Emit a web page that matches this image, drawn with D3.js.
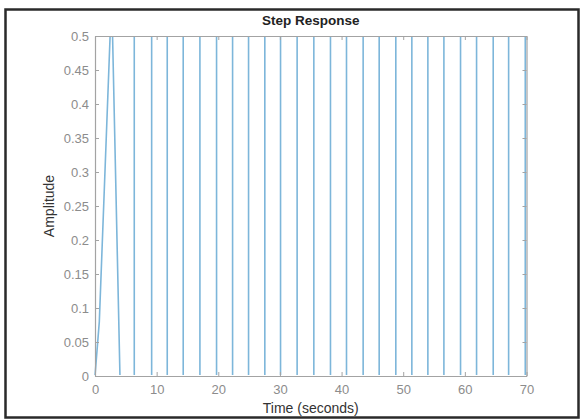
<!DOCTYPE html>
<html>
<head>
<meta charset="utf-8">
<script src="https://cdn.jsdelivr.net/npm/d3@7"></script>
<style>
  body { margin: 0; background: #fff; }
  svg { display: block; }
</style>
</head>
<body>
<div id="chart"></div>
<script>
// first rise of the response
var riseTimes  = [0, 0.7, 2.45, 2.85, 4.05];
var riseValues = [0, 0.08, 0.5, 0.5, 0];

// after that the signal flips between 0 and 0.5
var switchTimes  = [6.37, 9.19, 11.72, 14.31, 17.02, 19.72, 22.32, 24.91, 27.55, 30.1,
                    32.79, 35.5, 38.2, 40.8, 43.5, 46.1, 48.8, 51.4, 54.0, 56.6,
                    59.3, 61.9, 64.6, 67.1, 69.8];
var switchLevels = [0.5, 0, 0.5, 0, 0.5, 0, 0.5, 0, 0.5, 0,
                    0.5, 0, 0.5, 0, 0.5, 0, 0.5, 0, 0.5, 0,
                    0.5, 0, 0.5, 0, 0.5];
var endTime = 70;

var xTicks = [0, 10, 20, 30, 40, 50, 60, 70];
var yTicks = [0, 0.05, 0.1, 0.15, 0.2, 0.25, 0.3, 0.35, 0.4, 0.45, 0.5];

var svgWidth = 581, svgHeight = 420;
// plot box edges (note: "top" is taken by window.top, so use other names)
var plotLeft = 95, plotRight = 526.5, plotTop = 36, plotBottom = 376;

var svg = d3.select("#chart").append("svg")
    .attr("width", svgWidth)
    .attr("height", svgHeight);

// screenshot frame
svg.append("rect")
    .attr("x", 5.5).attr("y", 9.5)
    .attr("width", 573).attr("height", 408)
    .attr("fill", "#fff")
    .attr("stroke", "#2a2a2a")
    .attr("stroke-width", 2.5);

var x = d3.scaleLinear().domain([0, 70]).range([plotLeft, plotRight]);
var y = d3.scaleLinear().domain([0, 0.5]).range([plotBottom, plotTop]);

// the flat parts lie on the box edges, hide them under the axis lines
svg.append("clipPath")
    .attr("id", "plotClip")
    .append("rect")
    .attr("x", plotLeft - 2)
    .attr("y", plotTop + 1)
    .attr("width", plotRight - plotLeft + 4)
    .attr("height", plotBottom - plotTop - 2);

// build the points list: the rise, then a step after each switch
var points = riseTimes.map(function(t, i) { return [t, riseValues[i]]; });
var level = riseValues[riseValues.length - 1];
switchTimes.forEach(function(t, i) {
    points.push([t, level]);
    level = switchLevels[i];
    points.push([t, level]);
});
points.push([endTime, level]);

var line = d3.line()
    .x(function(d) { return x(d[0]); })
    .y(function(d) { return y(d[1]); });

svg.append("path")
    .datum(points)
    .attr("clip-path", "url(#plotClip)")
    .attr("fill", "none")
    .attr("stroke", "#7db6da")
    .attr("stroke-width", 1.6)
    .attr("d", line);

// axes, ticks pointing inside like matlab
var axisColor = "#a3a3a3";
var labelColor = "#8c8c8c";
var fontFamily = "'Liberation Sans', Arial, sans-serif";

function styleAxis(g) {
    g.select(".domain").attr("stroke", axisColor).attr("stroke-width", 1.2);
    g.selectAll(".tick line").attr("stroke", axisColor);
    g.selectAll(".tick text")
        .attr("fill", labelColor)
        .style("font-family", fontFamily)
        .style("font-size", "13px");
}

svg.append("g")
    .attr("transform", "translate(0," + plotBottom + ")")
    .call(d3.axisBottom(x).tickValues(xTicks).tickSize(-4).tickSizeOuter(0).tickPadding(9))
    .call(styleAxis);

svg.append("g")
    .attr("transform", "translate(" + plotLeft + ",0)")
    .call(d3.axisLeft(y).tickValues(yTicks).tickFormat(d3.format("~g")).tickSize(-4).tickSizeOuter(0).tickPadding(6))
    .call(styleAxis);

svg.append("g")
    .attr("transform", "translate(0," + plotTop + ")")
    .call(d3.axisTop(x).tickValues(xTicks).tickFormat("").tickSize(-4).tickSizeOuter(0))
    .call(styleAxis);

svg.append("g")
    .attr("transform", "translate(" + plotRight + ",0)")
    .call(d3.axisRight(y).tickValues(yTicks).tickFormat("").tickSize(-4).tickSizeOuter(0))
    .call(styleAxis);

// texts
svg.append("text")
    .attr("x", (plotLeft + plotRight) / 2)
    .attr("y", 25)
    .attr("text-anchor", "middle")
    .style("font-family", fontFamily)
    .style("font-size", "13.5px")
    .style("font-weight", "bold")
    .attr("fill", "#222")
    .text("Step Response");

svg.append("text")
    .attr("x", (plotLeft + plotRight) / 2)
    .attr("y", 413)
    .attr("text-anchor", "middle")
    .style("font-family", fontFamily)
    .style("font-size", "14px")
    .attr("fill", "#333")
    .text("Time (seconds)");

svg.append("text")
    .attr("transform", "translate(54," + ((plotTop + plotBottom) / 2) + ") rotate(-90)")
    .attr("text-anchor", "middle")
    .style("font-family", fontFamily)
    .style("font-size", "14px")
    .attr("fill", "#333")
    .text("Amplitude");
</script>
</body>
</html>
